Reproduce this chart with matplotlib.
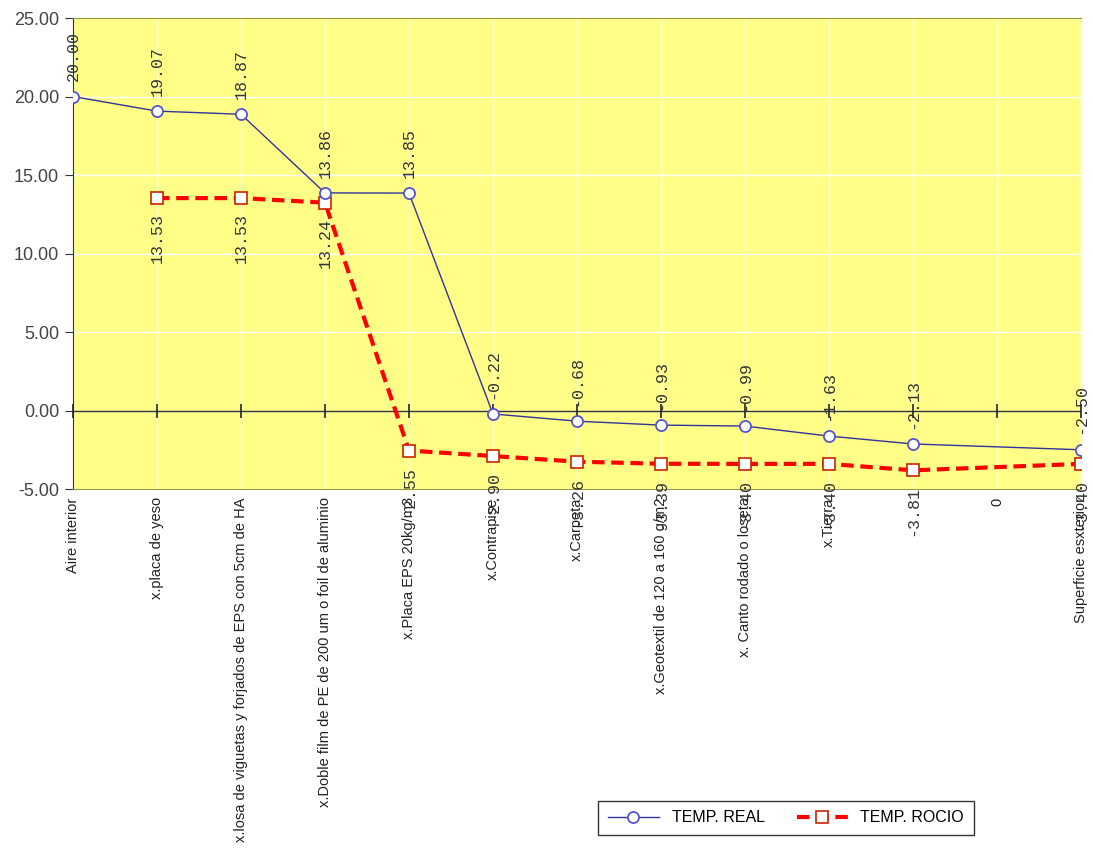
import matplotlib
matplotlib.use("Agg")
import matplotlib.pyplot as plt
import numpy as np

# capas del cerramiento
capas = ["Aire interior", "x.placa de yeso",
         "x.losa de viguetas y forjados de EPS con 5cm de HA",
         "x.Doble film de PE de 200 um o foil de aluminio",
         "x.Placa EPS 20kg/m3", "x.Contrapise", "x.Carpeta",
         "x.Geotextil de 120 a 160 g/m2", "x. Canto rodado o loseta",
         "x.Tierra", "", "0", "Superficie esxterior"]
temp_real = [20.00, 19.07, 18.87, 13.86, 13.85, -0.22, -0.68, -0.93, -0.99,
             -1.63, -2.13, None, -2.50]
temp_rocio = [None, 13.53, 13.53, 13.24, -2.55, -2.90, -3.26, -3.39, -3.40,
              -3.40, -3.81, None, -3.40]

x = np.arange(len(capas))
real = np.array([np.nan if v is None else v for v in temp_real])
rocio = np.array([np.nan if v is None else v for v in temp_rocio])
mr = ~np.isnan(real)
mc = ~np.isnan(rocio)

plt.rcParams['font.family'] = ['Liberation Sans', 'DejaVu Sans']
fig = plt.figure(figsize=(10.93, 8.5), dpi=100)
ax = fig.add_axes([0.0668, 0.4247, 0.9222, 0.5541])
ax.set_facecolor('#FFFF88')

ax.plot(x[mr], real[mr], color='#333399', lw=1.0, marker='o', ms=8,
        mfc='white', mec='#5555CC', mew=1.3, label='TEMP. REAL', zorder=12)
ax.plot(x[mc], rocio[mc], color='#FF0000', lw=3, ls=(0, (3, 1.6)), marker='s',
        ms=8, mfc='white', mec='#CC2200', mew=1.2, label='TEMP. ROCIO', zorder=11)

for xi, v in zip(x[mr], real[mr]):
    ax.annotate('%.2f' % v, (xi, v), xytext=(0, 11), textcoords='offset points',
                rotation=90, ha='center', va='bottom', fontsize=12,
                family='Liberation Mono', color='#333333', zorder=13)
for xi, v in zip(x[mc], rocio[mc]):
    ax.annotate('%.2f' % v, (xi, v), xytext=(0, -11), textcoords='offset points',
                rotation=90, ha='center', va='top', fontsize=12,
                family='Liberation Mono', color='#333333', annotation_clip=False,
                zorder=13)

ax.set_xlim(0, 12)
ax.set_ylim(-5, 25)
ax.set_yticks(np.arange(-5, 26, 5))
ax.set_yticklabels(['%.2f' % t for t in np.arange(-5, 26, 5)], fontsize=13,
                   color='#444444')
ax.set_xticks(x)
ax.set_xticklabels(capas, rotation=90, fontsize=10.5, va='top', color='#222222')
ax.tick_params(axis='x', length=0, pad=6)
ax.tick_params(axis='y', length=6, direction='out', color='#333333', pad=4)
ax.grid(True, color='white', lw=1.0)
ax.set_axisbelow(True)

for s in ['top', 'bottom', 'right']:
    ax.spines[s].set_color('#999933')
ax.spines['right'].set_visible(False)
ax.spines['left'].set_color('#333333')

# eje en cero con marcas
ax.axhline(0, color='#333333', lw=1.0, zorder=2)
sec = ax.secondary_xaxis(5 / 30)
sec.set_zorder(5)
sec.set_xticks(x)
sec.set_xticklabels([])
sec.tick_params(direction='inout', length=10, width=1.2, color='#222222')
sec.spines['bottom'].set_visible(False)
sec.spines['top'].set_visible(False)

leg = fig.legend(loc='center', bbox_to_anchor=(0.719, 0.038), ncol=2,
                 fontsize=11.5, frameon=True, fancybox=False, edgecolor='black',
                 handlelength=3.2, columnspacing=2.0, borderpad=0.6)
leg.get_frame().set_linewidth(1.0)

fig.savefig('out.png', dpi=100)
